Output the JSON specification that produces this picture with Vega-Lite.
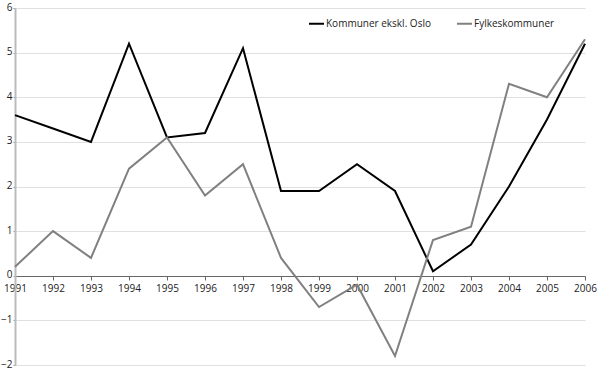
{
  "$schema": "https://vega.github.io/schema/vega-lite/v6.json",
  "width": 570,
  "height": 357,
  "autosize": {"type": "none"},
  "padding": {"left": 15, "top": 8, "right": 15, "bottom": 7},
  "background": "white",
  "config": {"view": {"stroke": null}, "font": "Open Sans"},
  "data": {"values": [
    {"year": 1991, "series": "Kommuner ekskl. Oslo", "value": 3.6},
    {"year": 1992, "series": "Kommuner ekskl. Oslo", "value": 3.3},
    {"year": 1993, "series": "Kommuner ekskl. Oslo", "value": 3.0},
    {"year": 1994, "series": "Kommuner ekskl. Oslo", "value": 5.2},
    {"year": 1995, "series": "Kommuner ekskl. Oslo", "value": 3.1},
    {"year": 1996, "series": "Kommuner ekskl. Oslo", "value": 3.2},
    {"year": 1997, "series": "Kommuner ekskl. Oslo", "value": 5.1},
    {"year": 1998, "series": "Kommuner ekskl. Oslo", "value": 1.9},
    {"year": 1999, "series": "Kommuner ekskl. Oslo", "value": 1.9},
    {"year": 2000, "series": "Kommuner ekskl. Oslo", "value": 2.5},
    {"year": 2001, "series": "Kommuner ekskl. Oslo", "value": 1.9},
    {"year": 2002, "series": "Kommuner ekskl. Oslo", "value": 0.1},
    {"year": 2003, "series": "Kommuner ekskl. Oslo", "value": 0.7},
    {"year": 2004, "series": "Kommuner ekskl. Oslo", "value": 2.0},
    {"year": 2005, "series": "Kommuner ekskl. Oslo", "value": 3.5},
    {"year": 2006, "series": "Kommuner ekskl. Oslo", "value": 5.2},
    {"year": 1991, "series": "Fylkeskommuner", "value": 0.2},
    {"year": 1992, "series": "Fylkeskommuner", "value": 1.0},
    {"year": 1993, "series": "Fylkeskommuner", "value": 0.4},
    {"year": 1994, "series": "Fylkeskommuner", "value": 2.4},
    {"year": 1995, "series": "Fylkeskommuner", "value": 3.1},
    {"year": 1996, "series": "Fylkeskommuner", "value": 1.8},
    {"year": 1997, "series": "Fylkeskommuner", "value": 2.5},
    {"year": 1998, "series": "Fylkeskommuner", "value": 0.4},
    {"year": 1999, "series": "Fylkeskommuner", "value": -0.7},
    {"year": 2000, "series": "Fylkeskommuner", "value": -0.2},
    {"year": 2001, "series": "Fylkeskommuner", "value": -1.8},
    {"year": 2002, "series": "Fylkeskommuner", "value": 0.8},
    {"year": 2003, "series": "Fylkeskommuner", "value": 1.1},
    {"year": 2004, "series": "Fylkeskommuner", "value": 4.3},
    {"year": 2005, "series": "Fylkeskommuner", "value": 4.0},
    {"year": 2006, "series": "Fylkeskommuner", "value": 5.3}
  ]},
  "mark": {"type": "line", "strokeWidth": 2},
  "encoding": {
    "x": {
      "field": "year", "type": "quantitative",
      "scale": {"domain": [1991, 2006], "nice": false, "zero": false},
      "axis": {
        "title": null, "format": "d", "values": [1991,1992,1993,1994,1995,1996,1997,1998,1999,2000,2001,2002,2003,2004,2005,2006],
        "grid": false, "offset": -89, "domainColor": "#666", "domainWidth": 1.2,
        "tickColor": "#666", "tickSize": 4, "labelFontSize": 10, "labelColor": "#222",
        "labelPadding": 3, "labelFlush": false
      }
    },
    "y": {
      "field": "value", "type": "quantitative",
      "scale": {"domain": [-2, 6], "nice": false},
      "axis": {
        "title": null, "values": [-2,-1,0,1,2,3,4,5,6], "grid": true, "gridColor": "#e0e0e0", "gridWidth": 1.2,
        "domainColor": "#bbbbbb", "domainWidth": 2, "tickColor": "#999", "tickSize": 2,
        "labelFontSize": 10, "labelColor": "#222", "labelPadding": 1, "labelBaseline": "middle", "labelOffset": -1
      }
    },
    "color": {
      "field": "series", "type": "nominal",
      "scale": {"domain": ["Kommuner ekskl. Oslo", "Fylkeskommuner"], "range": ["#000000", "#808080"]},
      "legend": {
        "title": null, "orient": "none", "legendX": 293, "legendY": 7, "direction": "horizontal",
        "symbolType": "stroke", "symbolSize": 225, "symbolStrokeWidth": 2,
        "labelFontSize": 10, "labelColor": "#222", "labelOffset": 1, "columnPadding": 22
      }
    }
  }
}
